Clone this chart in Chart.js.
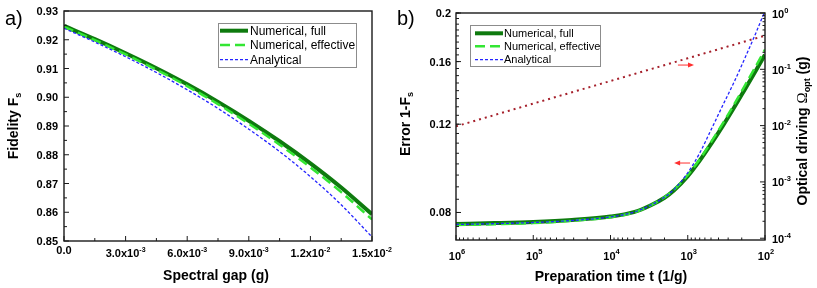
<!DOCTYPE html>
<html>
<head>
<meta charset="utf-8">
<script src="https://cdn.jsdelivr.net/npm/chart.js@4.4.0/dist/chart.umd.min.js"></script>
<style>
  body { margin: 0; background: #fff; width: 817px; height: 288px; overflow: hidden; position: relative; }
  #ca { position: absolute; left: 0; top: 0; }
  #cb { position: absolute; left: 385px; top: 0; }
</style>
</head>
<body>
<canvas id="ca" width="410" height="288"></canvas>
<canvas id="cb" width="432" height="288"></canvas>
<script>
// ---- panel a: fidelity vs spectral gap
const gapX  = [0, 0.0015, 0.003, 0.0045, 0.006, 0.0075, 0.009, 0.0105, 0.012, 0.0135, 0.015];
const fullA = [0.9248, 0.9202, 0.9153, 0.9101, 0.9045, 0.8984, 0.8918, 0.8847, 0.8770, 0.8686, 0.8593];
const effA  = [0.9245, 0.9199, 0.9149, 0.9096, 0.9039, 0.8976, 0.8908, 0.8835, 0.8756, 0.8670, 0.8575];
const anaA  = [0.9240, 0.9192, 0.9141, 0.9086, 0.9026, 0.8961, 0.8889, 0.8811, 0.8724, 0.8626, 0.8514];
const gapTicks  = [0, 0.003, 0.006, 0.009, 0.012, 0.015];
const gapLabels = [['0.0', ''], ['3.0x10', '-3'], ['6.0x10', '-3'], ['9.0x10', '-3'], ['1.2x10', '-2'], ['1.5x10', '-2']];
const fidTicks  = [0.85, 0.86, 0.87, 0.88, 0.89, 0.90, 0.91, 0.92, 0.93];
const fidLabels = ['0.85', '0.86', '0.87', '0.88', '0.89', '0.90', '0.91', '0.92', '0.93'];

// ---- panel b: error vs preparation time, optical driving on right axis
const timeT = [1e6, 3.16e5, 1e5, 3.16e4, 1e4, 5e3, 3e3, 2e3, 1.5e3, 1e3, 700, 500, 350, 250, 180, 130, 100];
const fullB = [0.0759, 0.0762, 0.0766, 0.0773, 0.0785, 0.0801, 0.0827, 0.0856, 0.0886, 0.0945, 0.1015, 0.1095, 0.1192, 0.1297, 0.1413, 0.1539, 0.1651];
const effB  = [0.0755, 0.0758, 0.0762, 0.0770, 0.0783, 0.0800, 0.0827, 0.0858, 0.0889, 0.0950, 0.1022, 0.1105, 0.1206, 0.1316, 0.1438, 0.1571, 0.1691];
const anaB  = [0.0757, 0.0760, 0.0764, 0.0771, 0.0784, 0.0801, 0.0828, 0.0858, 0.0890, 0.0960, 0.1051, 0.1169, 0.1311, 0.1459, 0.1632, 0.1831, 0.2020];
const driveT     = [1e6, 1e5, 1e4, 1e3, 1e2];
const driveOmega = [0.0097, 0.0246, 0.062, 0.157, 0.397];
const arrowOmega = [1340, 830, 0.119];   // tail t, head t, Omega
const arrowErr   = [935, 1500, 0.1004];  // tail t, head t, error
const timeTicks  = [1e6, 1e5, 1e4, 1e3, 1e2];
const timeLabels = ['6', '5', '4', '3', '2'];
const errTicks   = [0.08, 0.12, 0.16, 0.2];
const errLabels  = ['0.08', '0.12', '0.16', '0.2'];
const omegaTicks  = [1e-4, 1e-3, 1e-2, 1e-1, 1];
const omegaLabels = ['-4', '-3', '-2', '-1', '0'];

const SANS = '"Liberation Sans", Arial, sans-serif';
const TICK = 'bold 11px ' + SANS;
const SUP = 'bold 7px ' + SANS;
const TITLE = 'bold 14px ' + SANS;
const SUB = 'bold 9px ' + SANS;

// parts: [text, font, dy]; x,y = baseline anchor
function txt(ctx, parts, x, y, align, rot) {
  ctx.save();
  ctx.translate(x, y);
  if (rot) ctx.rotate(rot);
  ctx.textAlign = 'left';
  ctx.textBaseline = 'alphabetic';
  ctx.fillStyle = '#000';
  let w = 0;
  parts.forEach(p => { ctx.font = p[1]; w += ctx.measureText(p[0]).width; });
  let cx = align === 'center' ? -w / 2 : align === 'right' ? -w : 0;
  parts.forEach(p => {
    ctx.font = p[1];
    ctx.fillText(p[0], cx, p[2] || 0);
    cx += ctx.measureText(p[0]).width;
  });
  ctx.restore();
}

function seg(ctx, x1, y1, x2, y2) {
  ctx.beginPath(); ctx.moveTo(x1, y1); ctx.lineTo(x2, y2); ctx.stroke();
}

function frame(ctx, a) {
  ctx.strokeStyle = '#1a1a1a';
  ctx.lineWidth = 1.4;
  ctx.strokeRect(a.left, a.top, a.right - a.left, a.bottom - a.top);
  ctx.lineWidth = 1;
}

function legend(ctx, chart, box, rows, sx, tx, font) {
  ctx.save();
  ctx.strokeStyle = '#8c8c8c';
  ctx.lineWidth = 1;
  ctx.strokeRect(box[0] + 0.5, box[1] + 0.5, box[2], box[3]);
  chart.data.datasets.slice(0, 3).forEach((ds, i) => {
    ctx.strokeStyle = ds.borderColor;
    ctx.lineWidth = ds.borderWidth;
    ctx.setLineDash(ds.borderDash || []);
    seg(ctx, sx[0], rows[i], sx[1], rows[i]);
    ctx.setLineDash([]);
    ctx.font = font;
    ctx.fillStyle = '#000';
    ctx.textBaseline = 'middle';
    ctx.fillText(ds.label, tx, rows[i] + 0.5);
  });
  ctx.restore();
}

function arrow(ctx, x1, y, x2) {
  const d = Math.sign(x2 - x1);
  ctx.strokeStyle = '#ff3030';
  ctx.fillStyle = '#ff3030';
  ctx.lineWidth = 1;
  seg(ctx, x1, y, x2 - d * 4, y);
  ctx.beginPath();
  ctx.moveTo(x2, y);
  ctx.lineTo(x2 - d * 6, y - 2.5);
  ctx.lineTo(x2 - d * 6, y + 2.5);
  ctx.closePath();
  ctx.fill();
}

const hidden = { grid: { display: false }, border: { display: false }, ticks: { display: false } };

const lineStyles = [
  { label: 'Numerical, full', borderColor: '#0e7a0e', borderWidth: 4, order: 3 },
  { label: 'Numerical, effective', borderColor: '#33e633', borderWidth: 2.5, borderDash: [10, 5], order: 2 },
  { label: 'Analytical', borderColor: '#2424ff', borderWidth: 1.3, borderDash: [3, 2], order: 1 }
];

const panelA = {
  id: 'panelA',
  afterDraw(chart) {
    const { ctx, chartArea: a, scales: { x, y } } = chart;
    ctx.save();
    frame(ctx, a);
    ctx.strokeStyle = '#1a1a1a';
    for (let v = 0.855; v < 0.93; v += 0.01) {
      const p = y.getPixelForValue(v); seg(ctx, a.left, p, a.left + 3, p);
    }
    fidTicks.forEach((v, i) => {
      const p = y.getPixelForValue(v);
      seg(ctx, a.left, p, a.left + 5, p);
      txt(ctx, [[fidLabels[i], TICK]], a.left - 6, p + 4, 'right');
    });
    for (let v = 0.0015; v < 0.015; v += 0.003) {
      const p = x.getPixelForValue(v); seg(ctx, p, a.bottom, p, a.bottom - 3);
    }
    gapTicks.forEach((v, i) => {
      const p = x.getPixelForValue(v);
      seg(ctx, p, a.bottom, p, a.bottom - 5);
      const l = gapLabels[i];
      if (l[1]) txt(ctx, [[l[0], TICK], [l[1], SUP, -5]], p, 257, 'center');
      else txt(ctx, [[l[0], TICK]], p, 254, 'center');
    });
    legend(ctx, chart, [218, 23, 138, 44], [30.7, 45, 59.7], [220, 248], 250, '12px ' + SANS);
    txt(ctx, [['Spectral gap (g)', TITLE]], 216, 280, 'center');
    txt(ctx, [['Fidelity F', TITLE], ['s', SUB, 3]], 17.5, (a.top + a.bottom) / 2, 'center', -Math.PI / 2);
    txt(ctx, [['a)', '20px ' + SANS]], 5, 25, 'left');
    ctx.restore();
  }
};

const panelB = {
  id: 'panelB',
  afterDraw(chart) {
    const { ctx, chartArea: a, scales: { x, y, y2 } } = chart;
    ctx.save();
    frame(ctx, a);
    ctx.strokeStyle = '#1a1a1a';
    // left log axis ticks
    for (let k = 15; k <= 40; k++) {
      const v = k * 0.005;
      const p = y.getPixelForValue(v);
      if (v > y.min) seg(ctx, a.left, p, a.left + 3, p);
    }
    errTicks.forEach((v, i) => {
      const p = y.getPixelForValue(v);
      seg(ctx, a.left, p, a.left + 5, p);
      txt(ctx, [[errLabels[i], TICK]], a.left - 5, p + 4, 'right');
    });
    // bottom reversed log axis ticks
    for (let d = 2; d < 6; d++) {
      for (let k = 2; k <= 9; k++) {
        const p = x.getPixelForValue(k * Math.pow(10, d));
        seg(ctx, p, a.bottom, p, a.bottom - 2.5);
      }
    }
    timeTicks.forEach((v, i) => {
      const p = x.getPixelForValue(v);
      seg(ctx, p, a.bottom, p, a.bottom - 5);
      txt(ctx, [['10', TICK], [timeLabels[i], 'bold 7.5px ' + SANS, -5.5]], p + 1, 259.5, 'center');
    });
    // right log axis ticks
    for (let d = -5; d < 0; d++) {
      for (let k = 2; k <= 9; k++) {
        const v = k * Math.pow(10, d);
        if (v < y2.min) continue;
        const p = y2.getPixelForValue(v);
        seg(ctx, a.right, p, a.right - 2.5, p);
      }
    }
    omegaTicks.forEach((v, i) => {
      const p = y2.getPixelForValue(v);
      seg(ctx, a.right, p, a.right - 5, p);
      txt(ctx, [['10', TICK], [omegaLabels[i], 'bold 7.5px ' + SANS, -5]], a.right + 7, p + 4.5, 'left');
    });
    // arrows pointing at the axes
    arrow(ctx, x.getPixelForValue(arrowOmega[0]), y2.getPixelForValue(arrowOmega[2]), x.getPixelForValue(arrowOmega[1]));
    arrow(ctx, x.getPixelForValue(arrowErr[0]), y.getPixelForValue(arrowErr[2]), x.getPixelForValue(arrowErr[1]));
    legend(ctx, chart, [85, 25, 130, 41], [33.3, 46.3, 59.7], [90, 118], 119, '11px ' + SANS);
    txt(ctx, [['Preparation time t (1/g)', TITLE]], 226, 281, 'center');
    txt(ctx, [['Error 1-F', TITLE], ['s', SUB, 3]], 25, 124, 'center', -Math.PI / 2);
    txt(ctx, [['Optical driving ', TITLE], ['\u03A9', '15px "Liberation Serif", serif'], ['opt', SUB, 3], [' (g)', TITLE]],
        422, 131, 'center', -Math.PI / 2);
    txt(ctx, [['b)', '20px ' + SANS]], 12, 25, 'left');
    ctx.restore();
  }
};

const common = {
  responsive: false,
  animation: false,
  plugins: { legend: { display: false }, tooltip: { enabled: false } },
  elements: { point: { radius: 0 }, line: { cubicInterpolationMode: 'monotone', fill: false } }
};

new Chart(document.getElementById('ca'), {
  type: 'line',
  data: {
    datasets: [fullA, effA, anaA].map((s, i) => Object.assign({
      data: gapX.map((g, j) => ({ x: g, y: s[j] }))
    }, lineStyles[i]))
  },
  options: Object.assign({}, common, {
    layout: { padding: { top: 11, right: 38, left: 0, bottom: 0 } },
    scales: {
      x: Object.assign({ type: 'linear', min: 0, max: 0.015, afterFit: s => { s.height = 47; } }, hidden),
      y: Object.assign({ type: 'linear', min: 0.85, max: 0.93, afterFit: s => { s.width = 64; } }, hidden)
    }
  }),
  plugins: [panelA]
});

new Chart(document.getElementById('cb'), {
  type: 'line',
  data: {
    datasets: [fullB, effB, anaB].map((s, i) => Object.assign({
      data: timeT.map((t, j) => ({ x: t, y: s[j] })), yAxisID: 'y'
    }, lineStyles[i])).concat([{
      label: 'Optical driving',
      data: driveT.map((t, j) => ({ x: t, y: driveOmega[j] })),
      yAxisID: 'y2', borderColor: '#a51f2a', borderWidth: 2, borderDash: [2, 4], tension: 0, order: 4
    }])
  },
  options: Object.assign({}, common, {
    layout: { padding: { top: 13, right: 0, left: 0, bottom: 0 } },
    scales: {
      x: Object.assign({ type: 'logarithmic', min: 100, max: 1e6, reverse: true, afterFit: s => { s.height = 48; } }, hidden),
      y: Object.assign({ type: 'logarithmic', position: 'left', min: 0.0705, max: 0.2, afterFit: s => { s.width = 71; } }, hidden),
      y2: Object.assign({ type: 'logarithmic', position: 'right', min: 9.3e-5, max: 1, afterFit: s => { s.width = 52; } }, hidden)
    }
  }),
  plugins: [panelB]
});
</script>
</body>
</html>
